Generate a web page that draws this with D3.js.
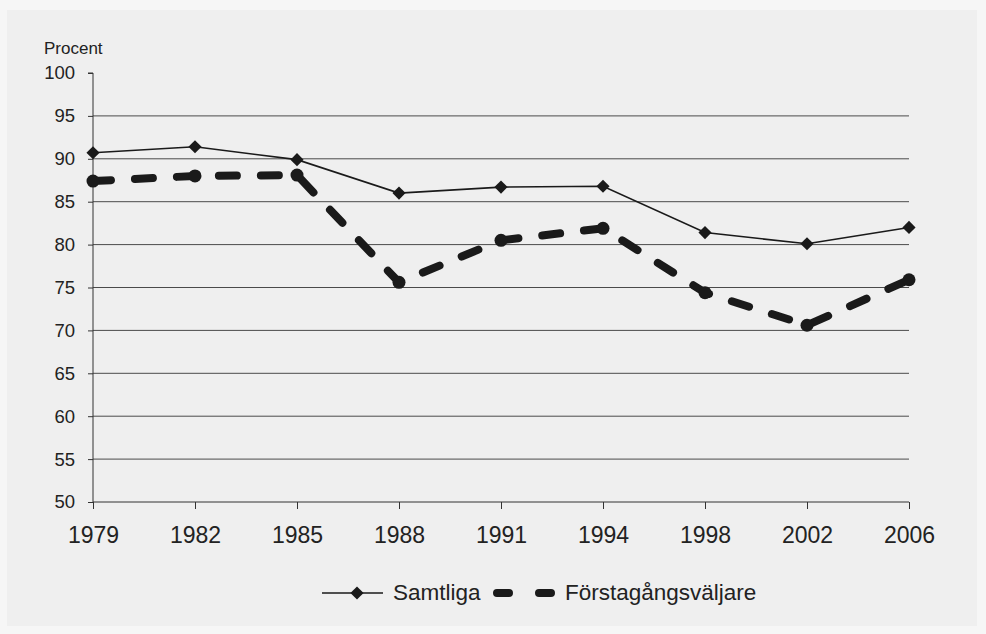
<!DOCTYPE html>
<html>
<head>
<meta charset="utf-8">
<script src="https://cdn.jsdelivr.net/npm/d3@7"></script>
<style>
  body { margin: 0; background: #f6f6f6; }
  svg { display: block; font-family: "Liberation Sans", Arial, sans-serif; }
</style>
</head>
<body>
<script>
var years = ["1979", "1982", "1985", "1988", "1991", "1994", "1998", "2002", "2006"];
var samtliga = [90.7, 91.4, 89.9, 86.0, 86.7, 86.8, 81.4, 80.1, 82.0];
var forstagangs = [87.4, 88.0, 88.1, 75.6, 80.5, 81.9, 74.4, 70.6, 75.9];
var yTicks = [50, 55, 60, 65, 70, 75, 80, 85, 90, 95, 100];

var W = 986, H = 634;
var margin = {top: 73, right: 77, bottom: 132, left: 93},
    width = W - margin.left - margin.right,
    height = H - margin.top - margin.bottom;

var svg = d3.select("body").append("svg")
    .attr("width", W)
    .attr("height", H);

// scanned paper background
svg.append("rect")
    .attr("x", 7).attr("y", 10)
    .attr("width", W - 16).attr("height", H - 18)
    .attr("fill", "#efefef");

var g = svg.append("g")
    .attr("transform", "translate(" + margin.left + "," + margin.top + ")");

var x = d3.scalePoint()
    .domain(years)
    .range([0, width]);

var y = d3.scaleLinear()
    .domain([50, 100])
    .range([height, 0]);

// gridlines
g.selectAll(".grid")
    .data(yTicks.filter(function(d) { return d > 50 && d < 100; }))
  .enter().append("line")
    .attr("class", "grid")
    .attr("x1", 0).attr("x2", width)
    .attr("y1", function(d) { return y(d); })
    .attr("y2", function(d) { return y(d); })
    .attr("stroke", "#4a4a4a")
    .attr("stroke-width", 1);

var yAxis = d3.axisLeft(y)
    .tickValues(yTicks)
    .tickSize(5)
    .tickPadding(13);

var xAxis = d3.axisBottom(x)
    .tickSize(7)
    .tickPadding(18);

var yg = g.append("g").call(yAxis);
yg.select(".domain").attr("stroke", "#333").attr("d", "M-5,0H0V" + height);
yg.selectAll(".tick line").attr("stroke", "#333");
yg.selectAll(".tick text")
    .attr("fill", "#222")
    .style("font-size", "18.5px");

var xg = g.append("g")
    .attr("transform", "translate(0," + height + ")")
    .call(xAxis);
xg.select(".domain").attr("stroke", "#333").attr("d", "M0,0H" + width);
xg.selectAll(".tick line").attr("stroke", "#333");
xg.selectAll(".tick text")
    .attr("fill", "#222")
    .style("font-size", "23px");

svg.append("text")
    .attr("x", 44).attr("y", 54)
    .attr("fill", "#222")
    .style("font-size", "17px")
    .text("Procent");

var lineS = d3.line()
    .x(function(d, i) { return x(years[i]); })
    .y(function(d) { return y(d); });

// first-time voters, thick dashed
g.append("path")
    .datum(forstagangs)
    .attr("d", lineS)
    .attr("fill", "none")
    .attr("stroke", "#1a1a1a")
    .attr("stroke-width", 8)
    .attr("stroke-linecap", "round")
    .attr("stroke-dasharray", "18,24");

g.selectAll(".dot")
    .data(forstagangs)
  .enter().append("circle")
    .attr("cx", function(d, i) { return x(years[i]); })
    .attr("cy", function(d) { return y(d); })
    .attr("r", 6.5)
    .attr("fill", "#1a1a1a");

// all voters
g.append("path")
    .datum(samtliga)
    .attr("d", lineS)
    .attr("fill", "none")
    .attr("stroke", "#1a1a1a")
    .attr("stroke-width", 1.6);

var diamond = d3.symbol().type(d3.symbolDiamond2).size(110);

g.selectAll(".dia")
    .data(samtliga)
  .enter().append("path")
    .attr("transform", function(d, i) { return "translate(" + x(years[i]) + "," + y(d) + ")"; })
    .attr("d", diamond)
    .attr("fill", "#1a1a1a");

// legend
var ly = 593;
var leg = svg.append("g");
leg.append("line")
    .attr("x1", 322).attr("x2", 383)
    .attr("y1", ly).attr("y2", ly)
    .attr("stroke", "#1a1a1a").attr("stroke-width", 1.6);
leg.append("path")
    .attr("transform", "translate(357," + ly + ")")
    .attr("d", diamond)
    .attr("fill", "#1a1a1a");
leg.append("text")
    .attr("x", 393).attr("y", ly + 7)
    .attr("fill", "#222")
    .style("font-size", "22.5px")
    .text("Samtliga");

leg.append("line")
    .attr("x1", 497).attr("x2", 557)
    .attr("y1", ly).attr("y2", ly)
    .attr("stroke", "#1a1a1a").attr("stroke-width", 8)
    .attr("stroke-linecap", "round")
    .attr("stroke-dasharray", "12,30");
leg.append("text")
    .attr("x", 565).attr("y", ly + 7)
    .attr("fill", "#222")
    .style("font-size", "22.5px")
    .text("Förstagångsväljare");
</script>
</body>
</html>
